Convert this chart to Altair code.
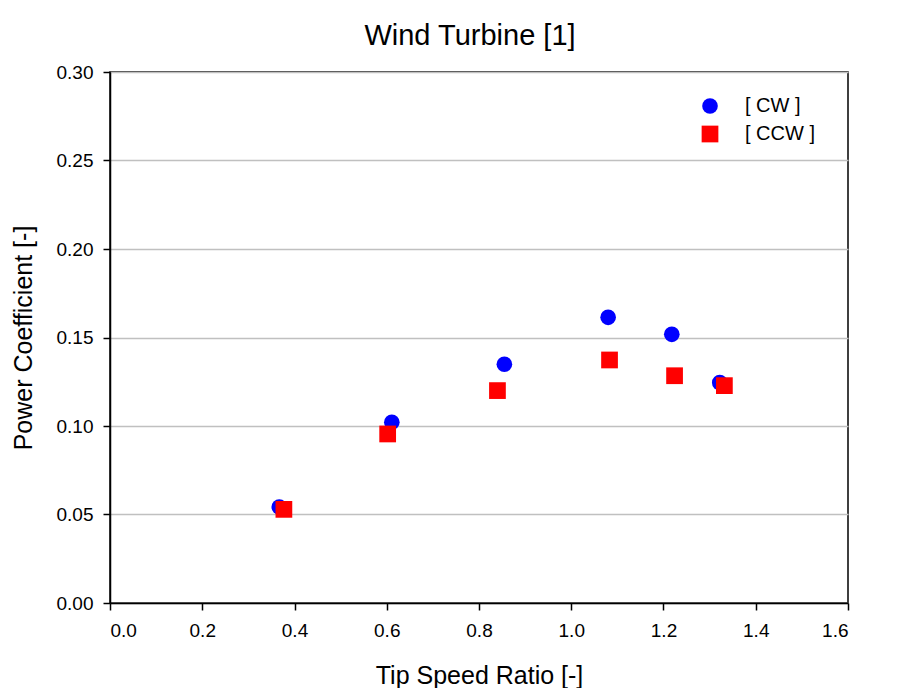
import altair as alt
import pandas as pd

cw_x = [0.367, 0.611, 0.855, 1.080, 1.218, 1.322]
cw_y = [0.0542, 0.1021, 0.1349, 0.1614, 0.1518, 0.1245]
ccw_x = [0.377, 0.602, 0.840, 1.083, 1.224, 1.332]
ccw_y = [0.0529, 0.0955, 0.1200, 0.1373, 0.1284, 0.1228]
series = ["[ CW ]", "[ CCW ]"]

df = pd.DataFrame(
    [{"x": x, "y": y, "s": series[0]} for x, y in zip(cw_x, cw_y)]
    + [{"x": x, "y": y, "s": series[1]} for x, y in zip(ccw_x, ccw_y)]
)

FONT = "Liberation Sans"

chart = alt.Chart(df).mark_point(filled=True, opacity=1).encode(
    x=alt.X("x:Q", scale=alt.Scale(domain=[0, 1.6], nice=False),
            axis=alt.Axis(title="Tip Speed Ratio [-]", values=[0, 0.2, 0.4, 0.6, 0.8, 1.0, 1.2, 1.4, 1.6],
                          format=".1f", grid=False, tickSize=7, labelPadding=11, titlePadding=23)),
    y=alt.Y("y:Q", scale=alt.Scale(domain=[0, 0.30], nice=False),
            axis=alt.Axis(title="Power Coefficient [-]", values=[0, 0.05, 0.10, 0.15, 0.20, 0.25, 0.30],
                          format=".2f", grid=True, tickSize=7, labelPadding=10, titlePadding=20)),
    color=alt.Color("s:N", scale=alt.Scale(domain=series, range=["#0000FF", "#FF0000"]),
                    legend=alt.Legend(title=None, orient="none", legendX=590, legendY=24,
                                      labelFontSize=20, labelFont=FONT, labelColor="#000000",
                                      rowPadding=8, labelOffset=25)),
    shape=alt.Shape("s:N", scale=alt.Scale(domain=series, range=["circle", "square"]), legend=None),
    size=alt.Size("s:N", scale=alt.Scale(domain=series, range=[245, 280]), legend=None),
).properties(
    width=738, height=531,
    title=alt.TitleParams("Wind Turbine [1]", fontSize=29, font=FONT, fontWeight="normal",
                          color="#000000", offset=12, dx=-9),
    autosize=alt.AutoSizeParams(type="none"),
    padding={"left": 102, "top": 64, "right": 60, "bottom": 85},
).configure_view(
    stroke="#000000", strokeWidth=1.5
).configure_axis(
    labelFont=FONT, titleFont=FONT, labelFontSize=19, titleFontSize=25,
    titleFontWeight="normal", labelColor="#000000", titleColor="#000000",
    domainColor="#000000", domainWidth=1.5, tickColor="#000000", tickWidth=1.5,
    gridColor="#C0C0C0", gridWidth=1.5
)

chart.save("out.html", embed_options={"renderer": "svg", "actions": False})
